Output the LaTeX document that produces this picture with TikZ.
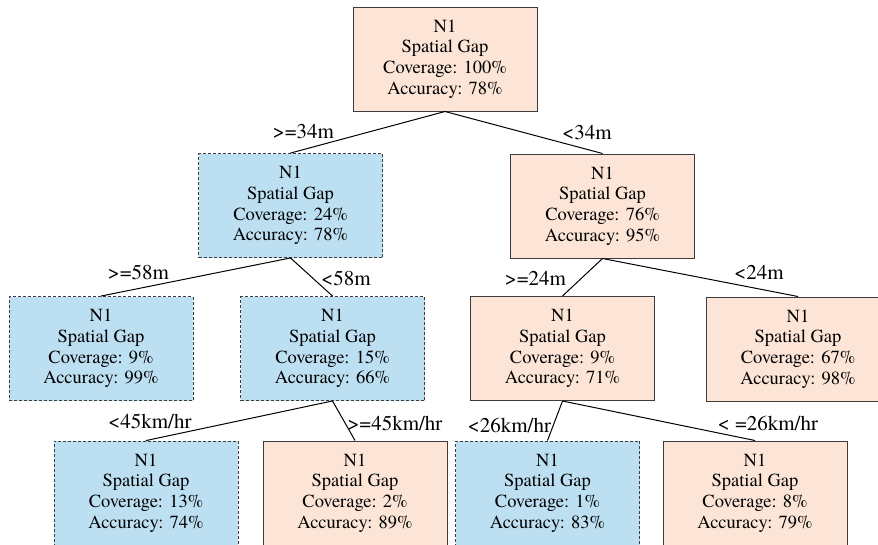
\documentclass[tikz,border=0pt]{standalone}
\usepackage{fontspec}
\setmainfont{texgyretermes}[Extension=.otf, UprightFont=*-regular]
\definecolor{peach}{RGB}{252,229,214}
\definecolor{skyblue}{RGB}{189,223,242}
\definecolor{edgegray}{RGB}{60,60,60}

\begin{document}
\begin{tikzpicture}[x=1pt, y=-1pt,
    font=\fontsize{18.5}{20.7}\selectfont,
    box/.style={rectangle, minimum width=184pt, minimum height=104pt, align=center, inner sep=0pt},
    keep/.style={box, fill=peach, draw=edgegray, line width=1pt},
    drop/.style={box, fill=skyblue, draw=edgegray, line width=0.9pt, dash pattern=on 3pt off 2pt},
    link/.style={draw=black, line width=1pt},
    cond/.style={font=\fontsize{21}{24}\selectfont, inner sep=0pt}]

        \clip (0,0) rectangle (878,544);

        % tree nodes
        \node[keep] (n0) at (445,59) {N1\\Spatial Gap\\Coverage: 100\%\\Accuracy: 78\%};

        \node[drop] (n1) at (290.5,205.5) {N1\\Spatial Gap\\Coverage: 24\%\\Accuracy: 78\%};
        \node[keep] (n2) at (602.5,206) {N1\\Spatial Gap\\Coverage: 76\%\\Accuracy: 95\%};

        \node[drop] (n11) at (101,348.5) {N1\\Spatial Gap\\Coverage: 9\%\\Accuracy: 99\%};
        \node[drop] (n12) at (332.5,348.5) {N1\\Spatial Gap\\Coverage: 15\%\\Accuracy: 66\%};
        \node[keep] (n21) at (562.5,348.5) {N1\\Spatial Gap\\Coverage: 9\%\\Accuracy: 71\%};
        \node[keep] (n22) at (798,349) {N1\\Spatial Gap\\Coverage: 67\%\\Accuracy: 98\%};

        \node[drop] (n121) at (146,493) {N1\\Spatial Gap\\Coverage: 13\%\\Accuracy: 74\%};
        \node[keep] (n122) at (355,493) {N1\\Spatial Gap\\Coverage: 2\%\\Accuracy: 89\%};
        \node[drop] (n211) at (547.5,493) {N1\\Spatial Gap\\Coverage: 1\%\\Accuracy: 83\%};
        \node[keep] (n212) at (755,493) {N1\\Spatial Gap\\Coverage: 8\%\\Accuracy: 79\%};

        % branches
        \draw[link] (n0.south) -- (n1.north);
        \draw[link] (n0.south) -- (n2.north);
        \draw[link] (n1.south) -- (n11.north);
        \draw[link] (n1.south) -- (n12.north);
        \draw[link] (n2.south) -- (n21.north);
        \draw[link] (n2.south) -- (n22.north);
        \draw[link] (n12.south) -- (n121.north);
        \draw[link] (n12.south) -- (n122.north);
        \draw[link] (n21.south) -- (n211.north);
        \draw[link] (n21.south) -- (n212.north);

        % split labels
        \node[cond] (t1) at (303.5,132) {>=34m};
        \node[cond] (t2) at (587,133) {<34m};
        \node[cond] (t11) at (138.5,272) {>=58m};
        \node[cond] (t12) at (346,278) {<58m};
        \node[cond] (t21) at (535.5,278) {>=24m};
        \node[cond] (t22) at (759,272) {<24m};
        \node[cond] (t121) at (150,421) {<45km/hr};
        \node[cond] (t122) at (395,423) {>=45km/hr};
        \node[cond] (t211) at (509.5,425) {<26km/hr};
        \node[cond] (t212) at (768,423) {< =26km/hr};

    \end{tikzpicture}
\end{document}
